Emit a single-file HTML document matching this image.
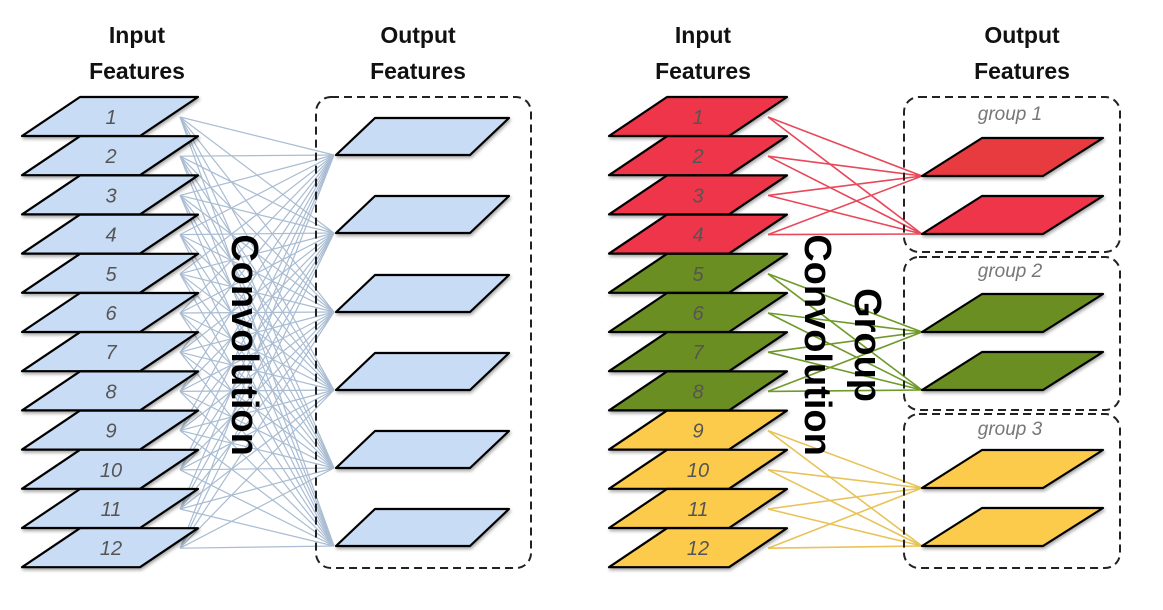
<!DOCTYPE html>
<html><head><meta charset="utf-8"><style>
html,body{margin:0;padding:0;background:#fff;width:1163px;height:610px;overflow:hidden}
svg{display:block}
.h{font-family:"Liberation Sans",sans-serif;font-weight:bold;font-size:23px;fill:#111;text-anchor:middle}
.n{font-family:"Liberation Sans",sans-serif;font-style:italic;font-size:20px;fill:#555;text-anchor:middle}
.g{font-family:"Liberation Sans",sans-serif;font-style:italic;font-size:19px;fill:#777;text-anchor:middle}
.c{font-family:"Liberation Sans",sans-serif;font-weight:bold;font-size:38px;fill:#000;text-anchor:middle}
</style></head><body>
<svg id="s" width="1163" height="610" viewBox="0 0 1163 610" xmlns="http://www.w3.org/2000/svg">
<defs><filter id="sh" x="-10%" y="-10%" width="130%" height="140%"><feDropShadow dx="1" dy="2" stdDeviation="1.5" flood-color="#000" flood-opacity="0.35"/></filter></defs>
<g id="lines"></g>
<g id="shapes"></g>
<rect x="316" y="97" width="215" height="471" rx="15" fill="none" stroke="#222" stroke-width="2" stroke-dasharray="8,5"/>
<rect x="904" y="97" width="216" height="155" rx="15" fill="none" stroke="#222" stroke-width="2" stroke-dasharray="8,5"/>
<rect x="904" y="257" width="216" height="153" rx="15" fill="none" stroke="#222" stroke-width="2" stroke-dasharray="8,5"/>
<rect x="904" y="414" width="216" height="154" rx="15" fill="none" stroke="#222" stroke-width="2" stroke-dasharray="8,5"/>
<text class="h" x="137" y="43">Input</text><text class="h" x="137" y="79">Features</text>
<text class="h" x="418" y="43">Output</text><text class="h" x="418" y="79">Features</text>
<text class="h" x="703" y="43">Input</text><text class="h" x="703" y="79">Features</text>
<text class="h" x="1022" y="43">Output</text><text class="h" x="1022" y="79">Features</text>
<text class="g" x="1010" y="120">group 1</text>
<text class="g" x="1010" y="277">group 2</text>
<text class="g" x="1010" y="435">group 3</text>
<g id="nums"></g>
<text class="c" transform="translate(232,345) rotate(90)">Convolution</text>
<text class="c" transform="translate(805,345) rotate(90)">Convolution</text>
<text class="c" transform="translate(855,345) rotate(90)">Group</text>
</svg>
<script>
var NS="http://www.w3.org/2000/svg";
function el(p,t,a){var e=document.createElementNS(NS,t);for(var k in a)e.setAttribute(k,a[k]);document.getElementById(p).appendChild(e);return e;}
function para(x,y,w,h,sk,fill){
 el("shapes","polygon",{points:[[x,y],[x+sk,y-h],[x+sk+w,y-h],[x+w,y]].join(" "),fill:fill,stroke:"#000","stroke-width":2.2,"stroke-linejoin":"round",filter:"url(#sh)"});
}
var step=39.2, outL=[155,233,312,390,468,546];
for(var i=0;i<12;i++){var y=117+i*step;for(var j=0;j<6;j++)el("lines","line",{x1:180,y1:y,x2:334,y2:outL[j],stroke:"#a9bcd2","stroke-width":1.2});}
var outR=[176,234,332,390,488,546],cols=["#e8485a","#6f9a2a","#e8c35a"];
for(var i=0;i<12;i++){var y=117+i*step,g=Math.floor(i/4);for(var j=0;j<2;j++)el("lines","line",{x1:768,y1:y,x2:922,y2:outR[g*2+j],stroke:cols[g],"stroke-width":1.6});}
var fills=["#ef3548","#6a8e23","#fccb4c"];
for(var i=0;i<12;i++){var b=136+i*step;
 para(22,b,118,39,58,"#c9dcf5");
 para(609,b,120,39,58,fills[Math.floor(i/4)]);
 var t=el("nums","text",{class:"n",x:111,y:b-12});t.textContent=(i+1);
 var t2=el("nums","text",{class:"n",x:698,y:b-12});t2.textContent=(i+1);
}
for(var j=0;j<6;j++)para(336,outL[j],134,37,39,"#c9dcf5");
var of=["#e83a40","#ef3548","#6a8e23","#6a8e23","#fccb4c","#fccb4c"];
for(var j=0;j<6;j++)para(922,outR[j],121,38,60,of[j]);
</script>
</body></html>
